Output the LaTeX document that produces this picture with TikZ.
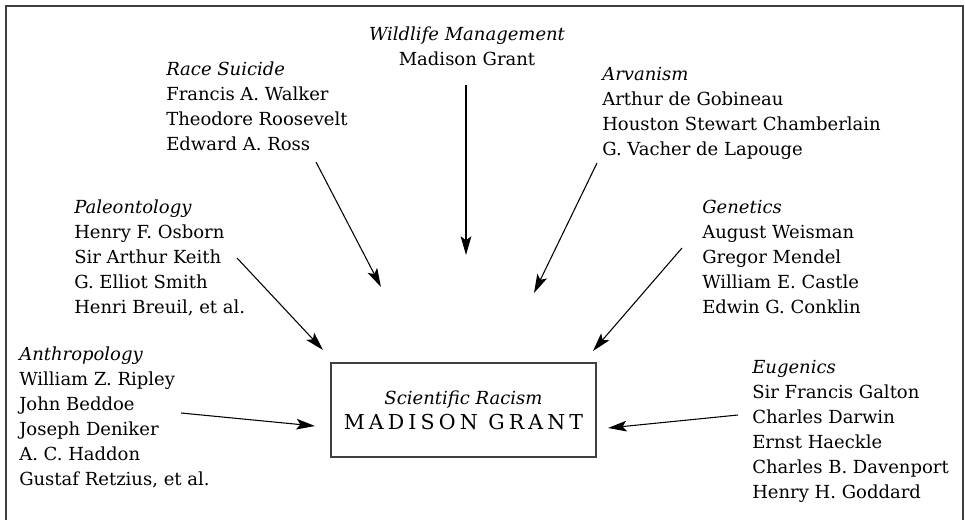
\documentclass[tikz,border=0pt]{standalone}
\usepackage{fontspec}
\setmainfont{DejaVu Serif}
\newfontfamily\spacedcaps[LetterSpace=20]{DejaVu Serif}
\usetikzlibrary{arrows.meta, positioning}

\tikzset{
  field/.style={anchor=north west, align=left, inner sep=0pt,
    font=\fontsize{13.5}{18.75}\selectfont},
  influence/.style={-{Stealth[length=14pt,width=8pt,inset=3pt]}, line width=0.8pt},
}
\newcommand{\fieldname}[1]{\textit{#1}}

\begin{document}
\begin{tikzpicture}[x=0.75pt,y=-0.75pt]
          \useasboundingbox (0,0) rectangle (965,520);
          \draw[line width=1.2pt, black!75] (6,520) -- (6,6) -- (963,6) -- (963,520);
          % centre box
          \node (grant) [draw, line width=0.9pt, black!75, text=black,
            minimum width=198.75pt, minimum height=70.5pt, align=center,
            font=\fontsize{13.5}{18.75}\selectfont] at (463.5,410)
            {\textit{Scientific Racism}\\
             {\spacedcaps\fontsize{15.4}{18.75}\selectfont MADISON GRANT}};
          % the fields
          \node (wildlife) [field, anchor=north, align=center] at (467,27)
            {\fieldname{Wildlife Management}\\ Madison Grant};
          \node (race) [field] at (166,62)
            {\fieldname{Race Suicide}\\ Francis A. Walker\\ Theodore Roosevelt\\ Edward A. Ross};
          \node (paleo) [field] at (74,200)
            {\fieldname{Paleontology}\\ Henry F. Osborn\\ Sir Arthur Keith\\ G. Elliot Smith\\ Henri Breuil, et al.};
          \node (anthro) [field] at (19,347)
            {\fieldname{Anthropology}\\ William Z. Ripley\\ John Beddoe\\ Joseph Deniker\\ A. C. Haddon\\ Gustaf Retzius, et al.};
          \node (arvan) [field] at (602,67)
            {\fieldname{Arvanism}\\ Arthur de Gobineau\\ Houston Stewart Chamberlain\\ G. Vacher de Lapouge};
          \node (genetics) [field] at (702,200)
            {\fieldname{Genetics}\\ August Weisman\\ Gregor Mendel\\ William E. Castle\\ Edwin G. Conklin};
          \node (eugenics) [field] at (752,360)
            {\fieldname{Eugenics}\\ Sir Francis Galton\\ Charles Darwin\\ Ernst Haeckle\\ Charles B. Davenport\\ Henry H. Goddard};
          % arrow ends
          \coordinate (wildlife-out) at (466,85);
          \coordinate (wildlife-in) at (466,255);
          \coordinate (race-out) at (316,162);
          \coordinate (race-in) at (381,287);
          \coordinate (paleo-out) at (237,258);
          \coordinate (paleo-in) at (323,350);
          \coordinate (anthro-out) at (181,413);
          \coordinate (anthro-in) at (315,426);
          \coordinate (arvan-out) at (597,163);
          \coordinate (arvan-in) at (534,293);
          \coordinate (genetics-out) at (682,248);
          \coordinate (genetics-in) at (593,351);
          \coordinate (eugenics-out) at (738,415);
          \coordinate (eugenics-in) at (608,428);
          \begin{scope}[influence]
            \draw (wildlife-out) -- (wildlife-in);
            \draw (race-out) -- (race-in);
            \draw (paleo-out) -- (paleo-in);
            \draw (anthro-out) -- (anthro-in);
            \draw (arvan-out) -- (arvan-in);
            \draw (genetics-out) -- (genetics-in);
            \draw (eugenics-out) -- (eugenics-in);
          \end{scope}
        \end{tikzpicture}
\end{document}
